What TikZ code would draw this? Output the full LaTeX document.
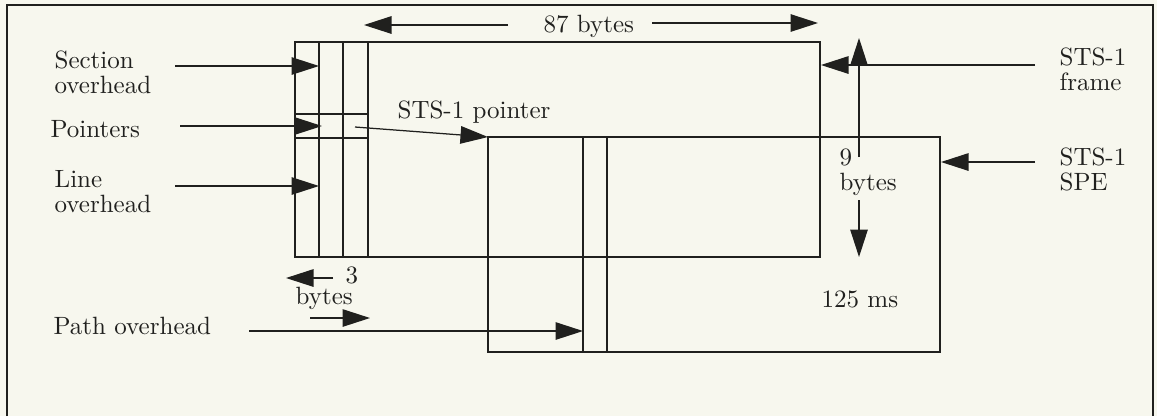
\documentclass[tikz,border=0pt]{standalone}
\usepackage{xcolor}
\usepackage{tikz}
\usetikzlibrary{arrows.meta}

\definecolor{paper}{RGB}{247,247,238}
\definecolor{ink}{RGB}{32,32,30}

\begin{document}
\begin{tikzpicture}[x=0.4pt, y=-0.4pt, line width=0.5pt, color=ink,
        lbl/.style={inner sep=0pt, anchor=north west, align=left, font=\fontsize{10}{10}\selectfont},
        ptr/.style={-{Triangle[length=11pt, width=7pt]}}]
        % page and frame border
        \fill[paper] (0,0) rectangle (1157,416);
        \useasboundingbox (0,0) rectangle (1157,416);
        \draw[line width=0.8pt] (7,416) -- (7,5) -- (1153,5) -- (1153,416);

        % STS-1 frame with its overhead columns
        \coordinate (frameNW) at (295,42);
        \coordinate (frameSE) at (820,257);
        \draw (frameNW) rectangle (frameSE);
        \foreach \x in {319,343,368}
            \draw (\x,42) -- (\x,257);
        \draw (295,114) -- (368,114);
        \draw (295,138) -- (368,138);

        % STS-1 SPE, shifted inside the frame
        \coordinate (speNW) at (488,137);
        \coordinate (speSE) at (940,352);
        \draw (speNW) rectangle (speSE);
        \foreach \x in {583,607}
            \draw (\x,137) -- (\x,352);

        % labels
        \node[lbl] (secov) at (54,50) {Section\\overhead};
        \node[lbl] (pntr) at (50,120) {Pointers};
        \node[lbl] (lineov) at (54,170) {Line\\overhead};
        \node[lbl] (pathov) at (53,317) {Path overhead};
        \node[lbl] (stspntr) at (397,100) {STS-1 pointer};
        \node[lbl] (width) at (543,15) {87 bytes};
        \node[lbl] (frame) at (1059,47) {STS-1\\frame};
        \node[lbl] (spe) at (1059,147) {STS-1\\SPE};
        \node[lbl] (rows) at (839,148) {9\\bytes};
        \node[lbl] (period) at (821,290) {125 ms};
        \node[lbl] (three) at (345,266) {3};
        \node[lbl] (threeb) at (295,287) {bytes};

        % arrow ends
        \coordinate (secin) at (175,66);   \coordinate (secout) at (319,66);
        \coordinate (pin) at (180,126);    \coordinate (pout) at (322,126);
        \coordinate (linein) at (175,186); \coordinate (lineout) at (319,186);
        \coordinate (pathin) at (249,331); \coordinate (pathout) at (583,331);
        \coordinate (hofs) at (355,127);
        \coordinate (wl) at (508,25);      \coordinate (wlt) at (364,25);
        \coordinate (wr) at (652,23);      \coordinate (wrt) at (818,23);
        \coordinate (frin) at (1035,65);   \coordinate (frout) at (821,65);
        \coordinate (spin) at (1035,162);  \coordinate (spout) at (941,162);
        \coordinate (up) at (859,157);     \coordinate (upt) at (859,38);
        \coordinate (dn) at (859,200);     \coordinate (dnt) at (859,257);
        \coordinate (tl) at (333,278);     \coordinate (tlt) at (286,278);
        \coordinate (tr) at (310,318);     \coordinate (trt) at (370,318);

        % arrows
        \draw[ptr] (secin) -- (secout);
        \draw[ptr] (pin) -- (pout);
        \draw[ptr] (linein) -- (lineout);
        \draw[ptr] (pathin) -- (pathout);
        \draw[ptr] (hofs) -- (speNW);
        \draw[ptr] (wl) -- (wlt);
        \draw[ptr] (wr) -- (wrt);
        \draw[ptr] (frin) -- (frout);
        \draw[ptr] (spin) -- (spout);
        \draw[ptr] (up) -- (upt);
        \draw[ptr] (dn) -- (dnt);
        \draw[ptr] (tl) -- (tlt);
        \draw[ptr] (tr) -- (trt);
    \end{tikzpicture}
\end{document}
